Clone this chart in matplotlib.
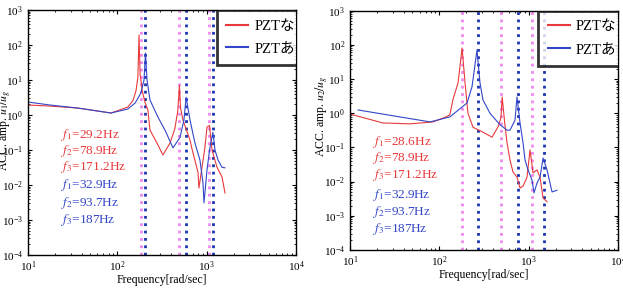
import numpy as np
import matplotlib
matplotlib.use('Agg')
import matplotlib.pyplot as plt
from matplotlib.ticker import LogLocator

plt.rcParams['font.family'] = ['Liberation Serif', 'Noto Sans CJK JP']
plt.rcParams['mathtext.fontset'] = 'stix'

# 左: u1/ug  (周波数 rad/s, 振幅)
w1_nashi = [10, 17.6, 36.2, 84.9, 131, 150, 162, 170, 175, 180, 184, 189, 205, 220, 232, 278, 324, 389, 440,
            475, 496, 510, 543, 651, 690, 800, 820, 957, 1009, 1076, 1148, 1306, 1486, 1605]
a1_nashi = [1.93, 1.8, 1.58, 1.14, 1.69, 2.6, 5.0, 12.2, 193, 14, 10, 5.2, 2.2, 1.39, 0.37, 0.158, 0.072, 0.158, 0.4,
            1.3, 7.0, 1.6, 0.72, 0.19, 0.1, 0.023, 0.0082, 0.12, 0.45, 0.5, 0.1, 0.032, 0.017, 0.0059]
w1_ari = [10, 17.6, 36.2, 84.9, 131, 158, 184, 199, 206.7, 215, 232, 285, 342, 420, 503, 557,
          589, 651, 740, 841, 910, 934, 1009, 1089, 1175, 1239, 1340, 1486, 1605]
a1_ari = [2.35, 1.93, 1.58, 1.14, 1.48, 2.19, 4.3, 10, 59, 10, 2.7, 0.87, 0.37, 0.115, 0.23, 0.72,
          3.2, 0.72, 0.158, 0.052, 0.0115, 0.0031, 0.027, 0.12, 0.32, 0.1, 0.052, 0.032, 0.031]

# 右: u2/ug
w2_nashi = [10, 23.4, 47, 84.9, 110, 131, 142, 162, 179.7, 194, 209, 238, 308, 389, 454, 490,
            505, 540, 573, 618, 668, 741, 800, 865, 958, 1035, 1119, 1239, 1340, 1449, 1605]
a2_nashi = [0.95, 0.52, 0.49, 0.56, 0.72, 0.89, 2.5, 7.8, 81, 7.8, 1.0, 0.39, 0.28, 0.2, 0.4, 0.75,
            3.0, 0.5, 0.135, 0.043, 0.019, 0.0135, 0.0065, 0.0074, 0.0135, 0.085, 0.018, 0.022, 0.0135, 0.0033, 0.0026]
w2_ari = [12.3, 36.3, 78.7, 131, 204, 232, 264, 285, 308, 369, 478, 573, 618, 703, 740, 800, 865,
          910, 984, 1089, 1148, 1239, 1340, 1449, 1605, 1733, 1825, 2075]
a2_ari = [1.25, 0.78, 0.56, 0.78, 2.0, 5.9, 71, 7.8, 2.45, 1.0, 0.46, 0.32, 0.32, 0.63, 3.0, 0.52, 0.135,
          0.043, 0.022, 0.0112, 0.0047, 0.0091, 0.0135, 0.049, 0.022, 0.0091, 0.005, 0.0056]

# 固有振動数 [Hz]
f_nashi_1 = [29.2, 78.9, 171.2]
f_nashi_2 = [28.6, 78.9, 171.2]
f_ari = [32.9, 93.7, 187]
# 右図の青い点線 (図から読み取り, rad/s)
vline_ari_2 = [271, 759, 1480]

RED = '#e83a3c'
BLUE = '#3346c8'
PINK = '#ee88ee'
DBLUE = '#1a33b0'

fig = plt.figure(figsize=(6.23, 2.92), dpi=100)
ax1 = fig.add_axes([0.0449, 0.1267, 0.4302, 0.839])
ax2 = fig.add_axes([0.5618, 0.1438, 0.4302, 0.8195])


def draw_panel(ax, w_n, a_n, w_a, a_a, vl_n, vl_a, ylab, lab_xy, leg_x):
    for v in vl_n:
        ax.axvline(v, color=PINK, ls=':', lw=2)
    for v in vl_a:
        ax.axvline(v, color=DBLUE, ls=':', lw=2)
    ax.plot(w_n, a_n, color=RED, lw=0.8, label='PZTなし')
    ax.plot(w_a, a_a, color=BLUE, lw=0.8, label='PZTあり')
    ax.set_xscale('log')
    ax.set_yscale('log')
    ax.set_xlim(10, 1e4)
    ax.set_ylim(1e-4, 1e3)
    ax.xaxis.set_major_locator(LogLocator(base=10, numticks=10))
    ax.yaxis.set_major_locator(LogLocator(base=10, numticks=10))
    ax.tick_params(which='both', direction='in', top=True, right=True, labelsize=8)
    ax.tick_params(which='major', length=3)
    ax.tick_params(which='minor', length=1.5)
    for s in ax.spines.values():
        s.set_linewidth(1.0)
    ax.set_xlabel('Frequency[rad/sec]', fontsize=8.5, labelpad=0)
    ax.set_ylabel(ylab, fontsize=8.5)
    ax.yaxis.set_label_coords(lab_xy[0], lab_xy[1])

    # 凡例 (軸の右端で切れている)
    leg = ax.legend(loc='upper left', bbox_to_anchor=(leg_x, 1.0), fontsize=10.5,
                    frameon=True, fancybox=False, borderaxespad=0, handlelength=1.5,
                    handletextpad=0.4, borderpad=0.65, labelspacing=0.65)
    leg.get_frame().set_edgecolor('black')
    leg.get_frame().set_linewidth(2)
    leg.get_frame().set_clip_path(ax.patch)
    for t in leg.get_texts():
        t.set_clip_path(ax.patch)
    for ln in leg.get_lines():
        ln.set_linewidth(1.5)


draw_panel(ax1, w1_nashi, a1_nashi, w1_ari, a1_ari,
           [2 * np.pi * f for f in f_nashi_1], [2 * np.pi * f for f in f_ari],
           r'ACC. amp. $u_1/u_g$', (-0.055, 0.51), 0.705)
draw_panel(ax2, w2_nashi, a2_nashi, w2_ari, a2_ari,
           [2 * np.pi * f for f in f_nashi_2], vline_ari_2,
           r'ACC. amp. $u_2/u_g$', (-0.075, 0.56), 0.702)

# 注記 (figure座標で配置)
ys1_n = [135, 151, 167]
ys1_a = [185, 203, 220]
ys2_n = [142, 158, 175]
ys2_a = [195, 212, 229]


def hz_labels(fs):
    return [r'$f_%d$=%gHz' % (i + 1, f) for i, f in enumerate(fs)]


for lab, y in zip(hz_labels(f_nashi_1), ys1_n):
    fig.text(61 / 623, 1 - y / 292, lab, color=RED, fontsize=9.5, va='center')
for lab, y in zip(hz_labels(f_ari), ys1_a):
    fig.text(61 / 623, 1 - y / 292, lab, color=BLUE, fontsize=9.5, va='center')
for lab, y in zip(hz_labels(f_nashi_2), ys2_n):
    fig.text(373 / 623, 1 - y / 292, lab, color=RED, fontsize=9.5, va='center')
for lab, y in zip(hz_labels(f_ari), ys2_a):
    fig.text(373 / 623, 1 - y / 292, lab, color=BLUE, fontsize=9.5, va='center')

fig.savefig('out.png', dpi=100)
